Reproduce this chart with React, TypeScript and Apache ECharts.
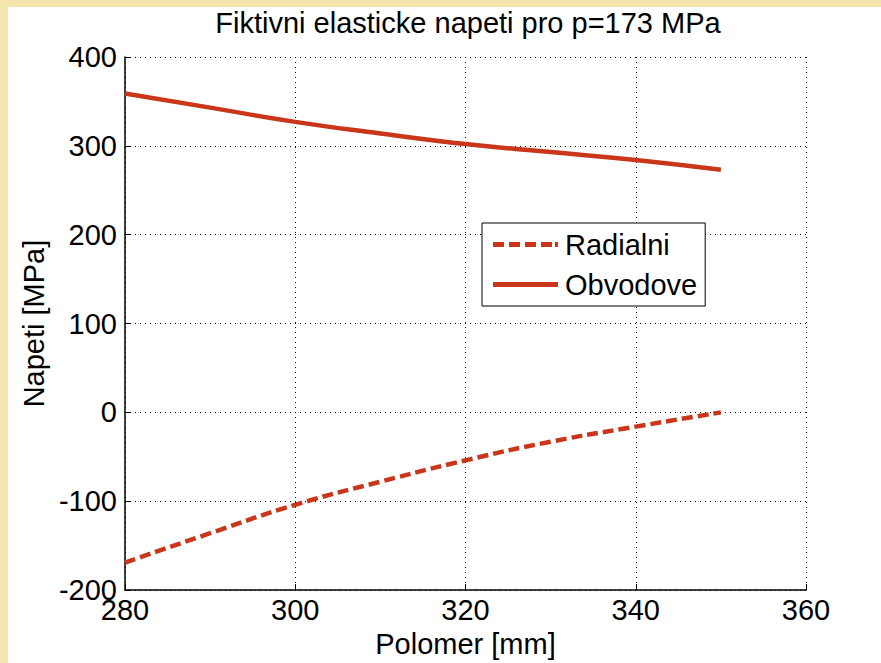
import React, { useEffect, useRef } from "react";
import * as echarts from "echarts";

const radius = [280, 290, 300, 310, 320, 330, 340, 350];
const radialni = [-169, -136, -104, -78, -54, -33, -16, 0];
const obvodove = [359, 343, 327, 314, 302, 293, 284, 273];
const titleText = "Fiktivni elasticke napeti pro p=173 MPa";
const xName = "Polomer [mm]";
const yName = "Napeti [MPa]";

const LINE = "#c9361a";
const FONT = "Liberation Sans, Arial, sans-serif";
const FS = 29;

const SOLID_ICON = "path://M0,0H65V5H0Z";
const DASH_ICON =
  "path://M0,0H11V5H0Z M16,0H27V5H16Z M32,0H43V5H32Z M48,0H59V5H48Z M62,0H65V5H62Z";

export default function App() {
  const ref = useRef<HTMLDivElement>(null);
  useEffect(() => {
    document.body.style.margin = "0";
    const chart = echarts.init(ref.current!, undefined, { renderer: "svg" });
    const pairs = (vals: number[]) => radius.map((r, i) => [r, vals[i]]);
    chart.setOption({
      animation: false,
      backgroundColor: "#ffffff",
      textStyle: { fontFamily: FONT },
      graphic: [
        { type: "rect", shape: { x: 0, y: 0, width: 881, height: 7 }, style: { fill: "#f5e4ad" }, z: -10 },
        { type: "rect", shape: { x: 0, y: 0, width: 8, height: 663 }, style: { fill: "#f5e4ad" }, z: -10 },
      ],
      title: {
        text: titleText,
        left: 463,
        textAlign: "center",
        top: 3,
        textStyle: { fontFamily: FONT, fontSize: FS, fontWeight: "normal", color: "#000" },
      },
      grid: { left: 125, right: 75, top: 57, bottom: 71 },
      legend: {
        orient: "vertical",
        left: 482,
        top: 223,
        borderColor: "#000",
        borderWidth: 1,
        padding: [7, 8, 7, 11],
        itemGap: 11,
        itemWidth: 65,
        itemHeight: 5,
        backgroundColor: "#fff",
        textStyle: { fontFamily: FONT, fontSize: FS, color: "#000", padding: [0, 0, 0, 2] },
        data: [
          { name: "Radialni", icon: DASH_ICON },
          { name: "Obvodove", icon: SOLID_ICON },
        ],
      },
      xAxis: {
        type: "value",
        min: 280,
        max: 360,
        interval: 20,
        name: xName,
        nameLocation: "middle",
        nameGap: 37,
        nameTextStyle: { fontFamily: FONT, fontSize: FS, color: "#000" },
        axisLine: { show: true, onZero: false, lineStyle: { color: "#000", width: 1.5 } },
        axisTick: { show: true, inside: true, length: 6, lineStyle: { color: "#000" } },
        axisLabel: { fontFamily: FONT, fontSize: FS, color: "#000", margin: 5 },
        splitLine: { show: true, lineStyle: { color: "#000", type: [1, 4], width: 1 } },
      },
      yAxis: {
        type: "value",
        min: -200,
        max: 400,
        interval: 100,
        name: yName,
        nameLocation: "middle",
        nameGap: 70,
        nameTextStyle: { fontFamily: FONT, fontSize: FS, color: "#000" },
        axisLine: { show: true, onZero: false, lineStyle: { color: "#000", width: 1.5 } },
        axisTick: { show: true, inside: true, length: 6, lineStyle: { color: "#000" } },
        axisLabel: { fontFamily: FONT, fontSize: FS, color: "#000", margin: 8 },
        splitLine: { show: true, lineStyle: { color: "#000", type: [1, 4], width: 1 } },
      },
      series: [
        {
          name: "Radialni",
          type: "line",
          data: pairs(radialni),
          smooth: true,
          symbol: "none",
          lineStyle: { color: LINE, width: 4.5, type: [11, 5] },
          itemStyle: { color: LINE },
        },
        {
          name: "Obvodove",
          type: "line",
          data: pairs(obvodove),
          smooth: true,
          symbol: "none",
          lineStyle: { color: LINE, width: 4.5, type: "solid" },
          itemStyle: { color: LINE },
        },
      ],
    });
    return () => chart.dispose();
  }, []);
  return <div ref={ref} style={{ width: 881, height: 663 }} />;
}
